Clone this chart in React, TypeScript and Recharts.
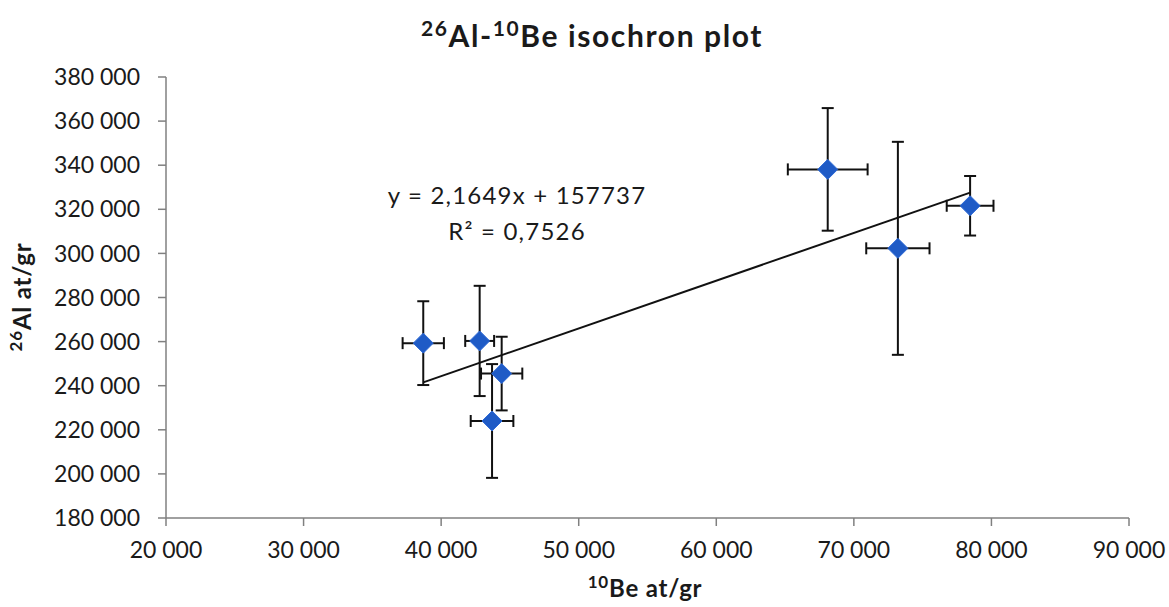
import React from 'react';
import { ScatterChart, Scatter, XAxis, YAxis, ErrorBar, ReferenceLine } from 'recharts';

// 10Be concentration (at/gr) per sample
const beValues = [38700, 42800, 44400, 43700, 68100, 73200, 78450];
// 26Al concentration (at/gr) per sample
const alValues = [259300, 260300, 245500, 224000, 338100, 302300, 321600];
// 1-sigma uncertainties
const beErrors = [1500, 1050, 1500, 1550, 2900, 2300, 1700];
const alErrors = [19000, 25000, 16700, 25800, 27800, 48300, 13500];

const xTicks = [20000, 30000, 40000, 50000, 60000, 70000, 80000, 90000];
const yTicks = [180000, 200000, 220000, 240000, 260000, 280000, 300000, 320000, 340000, 360000, 380000];

const trendSlope = 2.1649;
const trendIntercept = 157737;
const equationText = 'y = 2,1649x + 157737';
const r2Value = '0,7526';

const data = beValues.map((be, i) => ({
  be,
  al: alValues[i],
  beErr: beErrors[i],
  alErr: alErrors[i],
}));

const minBe = Math.min(...beValues);
const maxBe = Math.max(...beValues);
const trendSegment = [
  { x: minBe, y: trendSlope * minBe + trendIntercept },
  { x: maxBe, y: trendSlope * maxBe + trendIntercept },
];

const fmt = (v: number) => {
  const s = String(Math.round(v));
  return s.replace(/\B(?=(\d{3})+(?!\d))/g, ' ');
};

const FONT = 'Lato, "Open Sans", sans-serif';

const Diamond = (props: any) => {
  const { cx, cy } = props;
  const r = 10;
  return (
    <polygon
      points={`${cx},${cy - r} ${cx + r},${cy} ${cx},${cy + r} ${cx - r},${cy}`}
      fill="#1F5BC6"
      stroke="#2E6AD6"
      strokeWidth={1}
    />
  );
};

export default function App() {
  return (
    <div style={{ position: 'absolute', left: 0, top: 0, width: 1169, height: 607, background: '#fff' }}>
      <ScatterChart
        width={1169}
        height={607}
        margin={{ top: 77, right: 40, bottom: 29, left: 0 }}
      >
        <XAxis
          type="number"
          dataKey="be"
          domain={[20000, 90000]}
          ticks={xTicks}
          tickFormatter={fmt}
          height={60}
          tickSize={8}
          tickMargin={16}
          axisLine={{ stroke: '#808080', strokeWidth: 1.5 }}
          tickLine={{ stroke: '#808080', strokeWidth: 1.5 }}
          tick={{ fill: '#1a1a1a', fontSize: 23, fontFamily: FONT }}
          allowDataOverflow
        />
        <YAxis
          type="number"
          dataKey="al"
          domain={[180000, 380000]}
          ticks={yTicks}
          tickFormatter={fmt}
          width={166}
          tickSize={8}
          tickMargin={18}
          axisLine={{ stroke: '#808080', strokeWidth: 1.5 }}
          tickLine={{ stroke: '#808080', strokeWidth: 1.5 }}
          tick={{ fill: '#1a1a1a', fontSize: 23, fontFamily: FONT }}
          allowDataOverflow
        />
        <ReferenceLine segment={trendSegment} stroke="#111" strokeWidth={2} />
        <Scatter data={data} shape={<Diamond />} isAnimationActive={false}>
          <ErrorBar dataKey="beErr" direction="x" width={6} stroke="#111" strokeWidth={2} />
          <ErrorBar dataKey="alErr" direction="y" width={6} stroke="#111" strokeWidth={2} />
        </Scatter>
      </ScatterChart>
      <svg
        width={1169}
        height={607}
        style={{ position: 'absolute', left: 0, top: 0, pointerEvents: 'none' }}
      >
        <text x={592} y={47} textAnchor="middle" fontFamily={FONT} fontWeight={700} fontSize={30} letterSpacing={1.6} fill="#1a1a1a">
          <tspan fontSize={21} dy={-11}>26</tspan>
          <tspan dy={11}>Al-</tspan>
          <tspan fontSize={21} dy={-11}>10</tspan>
          <tspan dy={11}>Be isochron plot</tspan>
        </text>
        <text x={645} y={597} textAnchor="middle" fontFamily={FONT} fontWeight={700} fontSize={24} letterSpacing={0.8} fill="#1a1a1a">
          <tspan fontSize={17} dy={-9}>10</tspan>
          <tspan dy={9}>Be at/gr</tspan>
        </text>
        <text
          x={0}
          y={0}
          transform="translate(31,297) rotate(-90)"
          textAnchor="middle"
          fontFamily={FONT}
          fontWeight={700}
          fontSize={24}
          letterSpacing={0.8}
          fill="#1a1a1a"
        >
          <tspan fontSize={17} dy={-9}>26</tspan>
          <tspan dy={9}>Al at/gr</tspan>
        </text>
        <text x={517} y={204} textAnchor="middle" fontFamily={FONT} fontSize={24} letterSpacing={1.2} fill="#1a1a1a">
          {equationText}
        </text>
        <text x={517} y={240} textAnchor="middle" fontFamily={FONT} fontSize={24} letterSpacing={1.2} fill="#1a1a1a">
          R² = {r2Value}
        </text>
      </svg>
    </div>
  );
}
